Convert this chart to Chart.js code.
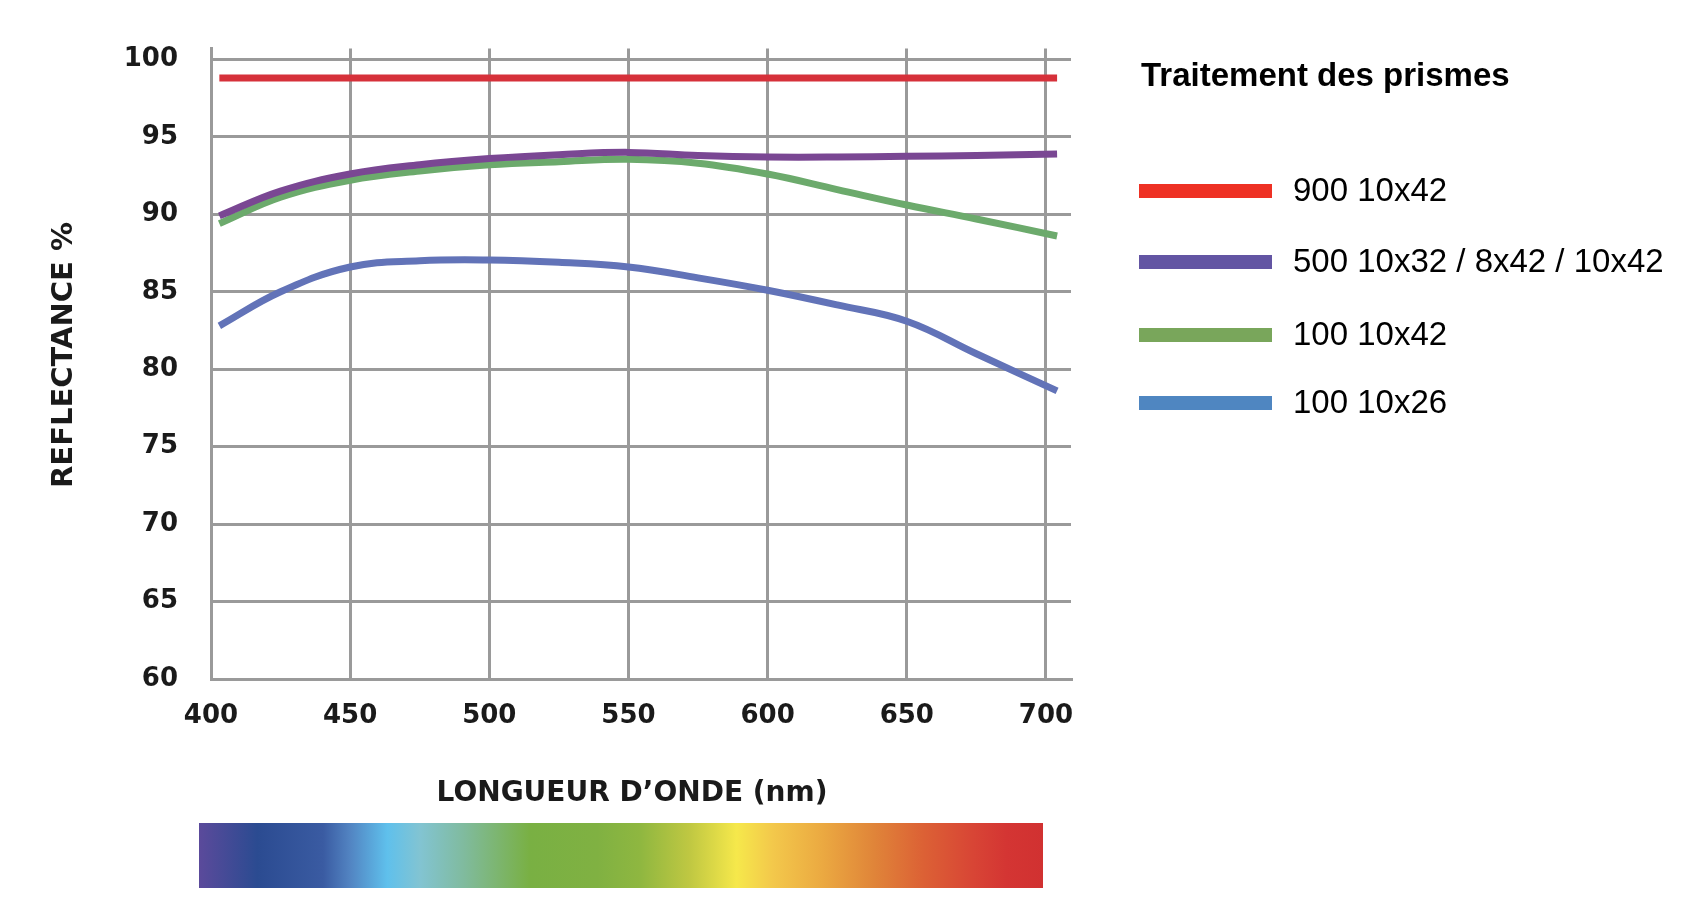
<!DOCTYPE html>
<html>
<head>
    <title>Reflectance des prismes</title>
    <script src="https://cdn.jsdelivr.net/npm/chart.js@4.4.1/dist/chart.umd.min.js"></script>
    <style>
        body { margin: 0; background: #fff; }
        canvas { display: block; }
    </style>
</head>
<body>
    <canvas id="chart" width="1690" height="922"></canvas>
    <script>
        // data
        var wavelengths = [403, 425, 450, 475, 500, 525, 550, 575, 600, 625, 650, 675, 704];
        var series900 = [98.8, 98.8, 98.8, 98.8, 98.8, 98.8, 98.8, 98.8, 98.8, 98.8, 98.8, 98.8, 98.8];
        var series500 = [89.9, 91.5, 92.6, 93.2, 93.6, 93.85, 94.0, 93.8, 93.7, 93.7, 93.75, 93.8, 93.9];
        var series100_42 = [89.4, 91.1, 92.2, 92.8, 93.2, 93.4, 93.55, 93.3, 92.6, 91.6, 90.6, 89.7, 88.6];
        var series100_26 = [82.8, 85.0, 86.6, 87.0, 87.05, 86.9, 86.6, 85.9, 85.1, 84.15, 83.1, 81.0, 78.6];

        var seriesLabels = ["900 10x42", "500 10x32 / 8x42 / 10x42", "100 10x42", "100 10x26"];
        var lineColors = ["#d6313a", "#7a4793", "#6caa6c", "#6273b8"];
        var legendColors = ["#ee3124", "#6355a3", "#79a65b", "#4f86c1"];
        var xTicks = [400, 450, 500, 550, 600, 650, 700];
        var yTicks = [60, 65, 70, 75, 80, 85, 90, 95, 100];

        var legendTitle = "Traitement des prismes";
        var xTitle = "LONGUEUR D\u2019ONDE (nm)";
        var yTitle = "REFLECTANCE %";

        var allSeries = [series900, series500, series100_42, series100_26];

        function points(values) {
            return wavelengths.map(function (w, i) { return { x: w, y: values[i] }; });
        }

        var gridColor = "#9a9a9a";
        var tickFont = { family: "DejaVu Sans", weight: "bold", size: 26 };

        var decorations = {
            id: 'decorations',
            afterDraw: function (chart) {
                var ctx = chart.ctx;
                ctx.save();

                // y title
                ctx.fillStyle = "#1a1a1a";
                ctx.font = "bold 29px 'DejaVu Sans'";
                ctx.textAlign = "center";
                ctx.textBaseline = "middle";
                ctx.translate(64, 355);
                ctx.rotate(-Math.PI / 2);
                ctx.fillText(yTitle, 0, 0);
                ctx.setTransform(1, 0, 0, 1, 0, 0);

                // x title
                ctx.font = "bold 28px 'DejaVu Sans'";
                ctx.fillText(xTitle, 632, 794);

                // spectrum strip
                var g = ctx.createLinearGradient(199, 0, 1043, 0);
                g.addColorStop(0, "#5b4a9b");
                g.addColorStop(0.069, "#2b4b91");
                g.addColorStop(0.147, "#3a5ba2");
                g.addColorStop(0.179, "#5284c2");
                g.addColorStop(0.223, "#5fc0ec");
                g.addColorStop(0.262, "#82c4d2");
                g.addColorStop(0.313, "#80bb9f");
                g.addColorStop(0.392, "#79b043");
                g.addColorStop(0.472, "#80b142");
                g.addColorStop(0.523, "#8fb740");
                g.addColorStop(0.582, "#c0c842");
                g.addColorStop(0.637, "#f6e84b");
                g.addColorStop(0.680, "#f3c84b");
                g.addColorStop(0.739, "#eba941");
                g.addColorStop(0.799, "#e08539");
                g.addColorStop(0.858, "#dc6135");
                g.addColorStop(0.917, "#d84535");
                g.addColorStop(0.957, "#d43533");
                g.addColorStop(1, "#d13131");
                ctx.fillStyle = g;
                ctx.fillRect(199, 823, 844, 65);

                // legend
                ctx.fillStyle = "#000";
                ctx.textAlign = "left";
                ctx.textBaseline = "alphabetic";
                ctx.font = "bold 33px 'Liberation Sans'";
                ctx.fillText(legendTitle, 1141, 86);

                var rows = [191, 262, 335, 403];
                ctx.font = "33px 'Liberation Sans'";
                ctx.textBaseline = "middle";
                chart.data.datasets.forEach(function (ds, i) {
                    ctx.fillStyle = legendColors[i];
                    ctx.fillRect(1139, rows[i] - 7, 133, 14);
                    ctx.fillStyle = "#000";
                    ctx.fillText(ds.label, 1293, rows[i] + 1);
                });

                ctx.restore();
            }
        };

        new Chart(document.getElementById('chart').getContext('2d'), {
            type: 'line',
            data: {
                datasets: allSeries.map(function (s, i) {
                    return {
                        label: seriesLabels[i],
                        data: points(s),
                        borderColor: lineColors[i],
                        borderWidth: 7,
                        borderCapStyle: 'butt',
                        pointRadius: 0,
                        fill: false,
                        tension: 0.4
                    };
                })
            },
            options: {
                responsive: false,
                animation: false,
                layout: { padding: { top: 42, right: 619, left: 0, bottom: 0 } },
                plugins: {
                    legend: { display: false },
                    tooltip: { enabled: false }
                },
                scales: {
                    x: {
                        type: 'linear',
                        min: 400,
                        max: 709,
                        afterFit: function (s) { s.height = 243; },
                        afterBuildTicks: function (s) { s.ticks = xTicks.map(function (v) { return { value: v }; }); },
                        grid: { color: gridColor, lineWidth: 3, drawTicks: false },
                        border: { color: gridColor, width: 3 },
                        ticks: { color: "#1a1a1a", font: tickFont, padding: 22, maxRotation: 0 }
                    },
                    y: {
                        min: 60,
                        max: 100.7,
                        afterFit: function (s) { s.width = 211; },
                        afterBuildTicks: function (s) { s.ticks = yTicks.map(function (v) { return { value: v }; }); },
                        grid: { color: gridColor, lineWidth: 3, drawTicks: false },
                        border: { color: gridColor, width: 3 },
                        ticks: { color: "#1a1a1a", font: tickFont, padding: 33 }
                    }
                }
            },
            plugins: [decorations]
        });
    </script>
</body>
</html>
